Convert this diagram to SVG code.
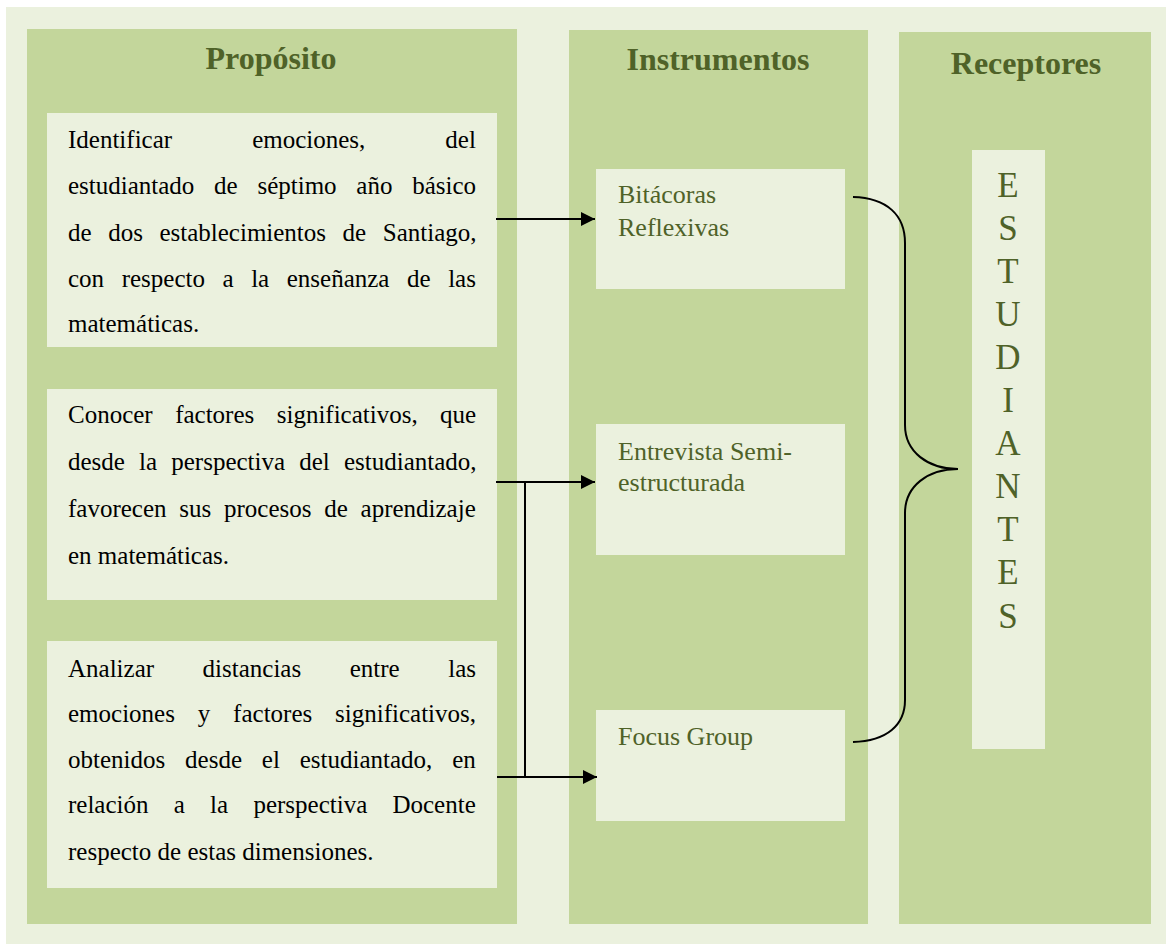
<svg xmlns="http://www.w3.org/2000/svg" width="1170" height="945" viewBox="0 0 1170 945">
<defs>
<style>
.bg{fill:#EBF1DE}
.col{fill:#C3D69B}
.box{fill:#EBF1DE}
.title{font-family:"Liberation Serif","Times New Roman",serif;font-weight:bold;font-size:32px;fill:#4F6228;text-anchor:middle}
.body{font-family:"Liberation Serif","Times New Roman",serif;font-size:25px;fill:#000}
.inst{font-family:"Liberation Serif","Times New Roman",serif;font-size:26px;fill:#4F6228}
.vert{font-family:"Liberation Serif","Times New Roman",serif;font-size:35px;fill:#4F6228;text-anchor:middle}
.ln{stroke:#000;stroke-width:2;fill:none}
</style>
<marker id="ah" viewBox="0 0 10 10" refX="10" refY="5" markerWidth="8" markerHeight="7" markerUnits="strokeWidth" orient="auto">
<path d="M0,0 L10,5 L0,10 Z" fill="#000"/>
</marker>
</defs>
<rect x="0" y="0" width="1170" height="945" fill="#fff"/>
<rect class="bg" x="6" y="7" width="1160" height="937"/>
<g id="col-proposito">
<rect class="col" x="27" y="29" width="490" height="895"/>
<text class="title" x="271" y="69">Propósito</text>
</g>
<g id="col-instrumentos">
<rect class="col" x="569" y="30" width="299" height="894"/>
<text class="title" x="718" y="70">Instrumentos</text>
</g>
<g id="col-receptores">
<rect class="col" x="899" y="32" width="252" height="892"/>
<text class="title" x="1026" y="74">Receptores</text>
</g>
<g id="proposito-1">
<rect class="box" x="47" y="113" width="450" height="234"/>
<text class="body" x="68" y="148" word-spacing="73.8">Identificar emociones, del</text>
<text class="body" x="68" y="194" word-spacing="13.5">estudiantado de séptimo año básico</text>
<text class="body" x="68" y="241" word-spacing="10.3">de dos establecimientos de Santiago,</text>
<text class="body" x="68" y="287" word-spacing="11.3">con respecto a la enseñanza de las</text>
<text class="body" x="68" y="332">matemáticas.</text>
</g>
<g id="proposito-2">
<rect class="box" x="47" y="389" width="450" height="211"/>
<text class="body" x="68" y="423" word-spacing="16.2">Conocer factores significativos, que</text>
<text class="body" x="68" y="470" word-spacing="7.9">desde la perspectiva del estudiantado,</text>
<text class="body" x="68" y="517" word-spacing="6.5">favorecen sus procesos de aprendizaje</text>
<text class="body" x="68" y="564">en matemáticas.</text>
</g>
<g id="proposito-3">
<rect class="box" x="47" y="641" width="450" height="247"/>
<text class="body" x="68" y="677" word-spacing="42.3">Analizar distancias entre las</text>
<text class="body" x="68" y="722" word-spacing="16.6">emociones y factores significativos,</text>
<text class="body" x="68" y="768" word-spacing="13.6">obtenidos desde el estudiantado, en</text>
<text class="body" x="68" y="813" word-spacing="19">relación a la perspectiva Docente</text>
<text class="body" x="68" y="860">respecto de estas dimensiones.</text>
</g>
<g id="inst-bitacoras">
<rect class="box" x="596" y="169" width="249" height="120"/>
<text class="inst" x="618" y="203">Bitácoras</text>
<text class="inst" x="618" y="236">Reflexivas</text>
</g>
<g id="inst-entrevista">
<rect class="box" x="596" y="424" width="249" height="131"/>
<text class="inst" x="618" y="460">Entrevista Semi-</text>
<text class="inst" x="618" y="491">estructurada</text>
</g>
<g id="inst-focus">
<rect class="box" x="596" y="710" width="249" height="111"/>
<text class="inst" x="618" y="745">Focus Group</text>
</g>
<g id="receptor-estudiantes">
<rect class="box" x="972" y="150" width="73" height="599"/>
<text class="vert" x="1008" y="197">E</text>
<text class="vert" x="1008" y="240">S</text>
<text class="vert" x="1008" y="283">T</text>
<text class="vert" x="1008" y="326">U</text>
<text class="vert" x="1008" y="369">D</text>
<text class="vert" x="1008" y="412">I</text>
<text class="vert" x="1008" y="455">A</text>
<text class="vert" x="1008" y="498">N</text>
<text class="vert" x="1008" y="541">T</text>
<text class="vert" x="1008" y="584">E</text>
<text class="vert" x="1008" y="628">S</text>
</g>
<g id="connectors">
<line class="ln" x1="496" y1="219" x2="595" y2="219" marker-end="url(#ah)"/>
<line class="ln" x1="496" y1="482" x2="595" y2="482" marker-end="url(#ah)"/>
<line class="ln" x1="525" y1="482" x2="525" y2="777"/>
<line class="ln" x1="497" y1="777" x2="597" y2="777" marker-end="url(#ah)"/>
<path class="ln" d="M853,197 C887,198 905,215 905,243 L905,425 C905,452 928,469 958,469 C928,469 905,486 905,513 L905,700 C905,725 887,741 853,742"/>
</g>
</svg>
